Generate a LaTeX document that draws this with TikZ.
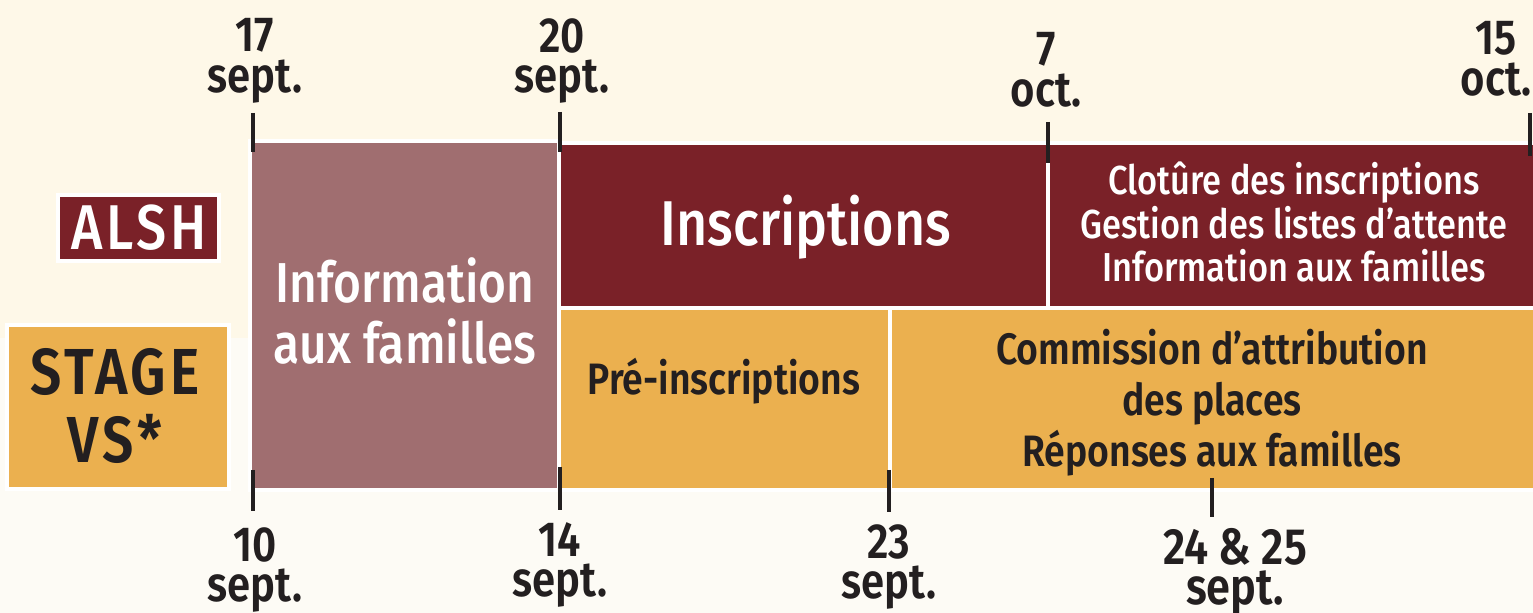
\documentclass[tikz,border=0pt]{standalone}
\usepackage{fontspec}
\setmainfont{Fira Sans}[FakeStretch=0.85]
\newfontfamily\medfont{Fira Sans Medium}[FakeStretch=0.85]
\newfontfamily\semifont{Fira Sans SemiBold}[FakeStretch=0.85]
\definecolor{alshred}{HTML}{7A2128}
\definecolor{mauve}{HTML}{A06E70}
\definecolor{gold}{HTML}{EBB04F}
\definecolor{ink}{HTML}{231F20}
\definecolor{bgtop}{HTML}{FEF8E8}
\definecolor{bgbot}{HTML}{FDFBF5}
\tikzset{
  bar/.style={draw=white, line width=1.2pt},
  tick/.style={draw=ink, line width=1.2pt},
  date/.style={text=ink, align=center, inner sep=0pt,
    font=\semifont\fontsize{14}{11.5}\selectfont},
  light/.style={text=white, align=center, inner sep=0pt},
  dark/.style={text=ink, align=center, inner sep=0pt}
}
\begin{document}
\begin{tikzpicture}[x=0.01cm, y=-0.01cm]
  \useasboundingbox (0,0) rectangle (1533,613);
  \fill[bgtop] (0,0) rectangle (1533,338);
  \fill[bgbot] (0,338) rectangle (1533,613);
  \path[bar, fill=mauve] (250,141) rectangle (559,490);
  \path[bar, fill=alshred] (559,143) rectangle (1048,308);
  \path[bar, fill=alshred] (1048,143) rectangle (1536,308);
  \path[bar, fill=gold] (559,308) rectangle (890,490);
  \path[bar, fill=gold] (890,308) rectangle (1536,490);
  \path[bar, fill=alshred] (58,195) rectangle (219,261);
  \path[bar, fill=gold] (7,325) rectangle (229,489);
  \node[light, font=\medfont\fontsize{18}{18}\selectfont\addfontfeatures{LetterSpace=6}, anchor=base] (alsh) at (139,250) {ALSH};
  \node[dark, font=\semifont\fontsize{18.5}{19.3}\selectfont\addfontfeatures{LetterSpace=6}] (stage) at (115,406) {STAGE\\VS*};
  \node[light, font=\medfont\fontsize{16}{17.6}\selectfont] (info) at (405,311) {Information\\aux familles};
  \node[light, font=\medfont\fontsize{18}{18}\selectfont, anchor=base] (inscr) at (806,246) {Inscriptions};
  \node[light, font=\medfont\fontsize{11.5}{12.5}\selectfont] (clot) at (1294,222) {Clotûre des inscriptions\\Gestion des listes d’attente\\Information aux familles};
  \node[dark, font=\semifont\fontsize{12.5}{12.5}\selectfont, anchor=base] (pre) at (724,395) {Pré-inscriptions};
  \node[dark, font=\semifont\fontsize{12.5}{14.5}\selectfont] (comm) at (1212,403) {Commission d’attribution\\des places\\Réponses aux familles};
  \node[date] (d17) at (255,61) {17\\sept.};
  \node[date] (d20) at (562,61) {20\\sept.};
  \node[date] (d7) at (1046,70) {7\\oct.};
  \node[date] (d15) at (1496,59) {15\\oct.};
  \node[date] (d10) at (255,570) {10\\sept.};
  \node[date] (d14) at (560,565) {14\\sept.};
  \node[date] (d23) at (889,567) {23\\sept.};
  \node[date, font=\semifont\fontsize{14.5}{11.5}\selectfont] (d24) at (1235,572) {24 \& 25\\sept.};
  \path
    (253,113) coordinate (t17) (253,152) coordinate (u17)
    (560,112) coordinate (t20) (560,152) coordinate (u20)
    (1048,122) coordinate (t7) (1048,163) coordinate (u7)
    (1530,113) coordinate (t15) (1530,156) coordinate (u15)
    (253,470) coordinate (t10) (253,511) coordinate (u10)
    (560,467) coordinate (t14) (560,510) coordinate (u14)
    (889,470) coordinate (t23) (889,512) coordinate (u23)
    (1212,478) coordinate (t24) (1212,517) coordinate (u24);
  \begin{scope}[tick]
    \draw (t17) -- (u17);
    \draw (t20) -- (u20);
    \draw (t7) -- (u7);
    \draw (t15) -- (u15);
    \draw (t10) -- (u10);
    \draw (t14) -- (u14);
    \draw (t23) -- (u23);
    \draw (t24) -- (u24);
  \end{scope}
\end{tikzpicture}
\end{document}
